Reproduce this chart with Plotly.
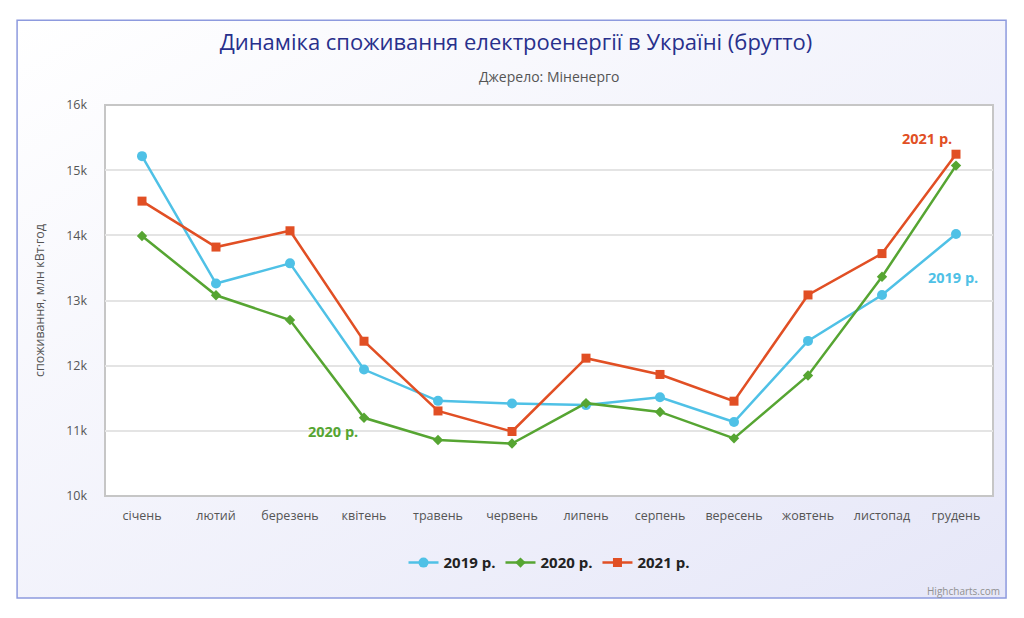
import base64
import plotly.graph_objects as go

# Monthly gross electricity consumption, mln kWh
months = ["січень", "лютий", "березень", "квітень", "травень", "червень",
          "липень", "серпень", "вересень", "жовтень", "листопад", "грудень"]
y2019 = [15215, 13260, 13570, 11940, 11460, 11420, 11395, 11515, 11135, 12380, 13085, 14020]
y2020 = [13990, 13080, 12700, 11200, 10860, 10805, 11425, 11290, 10885, 11850, 13365, 15070]
y2021 = [14525, 13820, 14070, 12375, 11305, 10990, 12115, 11865, 11455, 13085, 13720, 15245]
y_ticks = [10000, 11000, 12000, 13000, 14000, 15000, 16000]
y_tick_labels = ["10k", "11k", "12k", "13k", "14k", "15k", "16k"]

c2019 = "#4fc1e6"
c2020 = "#56a532"
c2021 = "#e14f24"
font = "Open Sans"

fig = go.Figure()

fig.add_trace(go.Scatter(x=months, y=y2019, mode="lines+markers", name="<b>2019 р.</b>",
                         line=dict(color=c2019, width=2.5),
                         marker=dict(symbol="circle", size=10, color=c2019)))
fig.add_trace(go.Scatter(x=months, y=y2020, mode="lines+markers", name="<b>2020 р.</b>",
                         line=dict(color=c2020, width=2.5),
                         marker=dict(symbol="diamond", size=8, color=c2020)))
fig.add_trace(go.Scatter(x=months, y=y2021, mode="lines+markers", name="<b>2021 р.</b>",
                         line=dict(color=c2021, width=2.5),
                         marker=dict(symbol="square", size=9, color=c2021)))

# gradient background of the chart box (white -> lavender)
svg = ('<svg xmlns="http://www.w3.org/2000/svg" width="100" height="100" preserveAspectRatio="none">'
       '<defs><linearGradient id="g" x1="0" y1="0" x2="1" y2="1">'
       '<stop offset="0" stop-color="#ffffff"/><stop offset="1" stop-color="#e6e7f8"/>'
       '</linearGradient></defs><rect width="100" height="100" fill="url(#g)"/></svg>')
bg_src = "data:image/svg+xml;base64," + base64.b64encode(svg.encode()).decode()
fig.add_layout_image(source=bg_src, xref="paper", yref="paper", x=-0.099, y=1.217,
                     sizex=1.1137, sizey=1.478, xanchor="left", yanchor="top",
                     sizing="stretch", layer="below")

# outer chart box border and plot area frame
fig.add_shape(type="rect", xref="paper", yref="paper", x0=-0.099, x1=1.0147, y0=-0.261, y1=1.217,
              fillcolor="rgba(0,0,0,0)", line=dict(color="#8d9ade", width=1.5), layer="below")
fig.add_shape(type="rect", xref="paper", yref="paper", x0=0, x1=1, y0=0, y1=1,
              fillcolor="white", line=dict(color="#c6c6c6", width=2), layer="below")

# series labels
fig.add_annotation(x="грудень", y=y2021[-1], text="<b>2021 р.</b>", showarrow=False,
                   xshift=-29, yshift=16, font=dict(color=c2021, size=14.5, family=font))
fig.add_annotation(x="грудень", y=y2019[-1], text="<b>2019 р.</b>", showarrow=False,
                   xshift=-3, yshift=-43, font=dict(color=c2019, size=14.5, family=font))
fig.add_annotation(x="квітень", y=y2020[3], text="<b>2020 р.</b>", showarrow=False,
                   xshift=-31, yshift=-14, font=dict(color=c2020, size=14.5, family=font))

# subtitle and credits
fig.add_annotation(xref="paper", yref="paper", x=0.5, y=1.073, yanchor="middle",
                   text="Джерело: Міненерго", showarrow=False,
                   font=dict(color="#555555", size=14, family=font))
fig.add_annotation(xref="paper", yref="paper", x=1.01, y=-0.242, xanchor="right", yanchor="middle",
                   text="Highcharts.com", showarrow=False,
                   font=dict(color="#909090", size=10, family=font))

fig.update_layout(
    width=1016, height=610,
    margin=dict(l=97, r=31, t=97, b=122),
    paper_bgcolor="white", plot_bgcolor="white",
    title=dict(text="Динаміка споживання електроенергії в Україні (брутто)",
               x=0.5, xanchor="center", y=0.944, yanchor="middle",
               font=dict(color="#28308c", size=22, family=font)),
    font=dict(family=font, color="#555555"),
    showlegend=True,
    legend=dict(orientation="h", x=0.5, xanchor="center", y=-0.171, yanchor="middle",
                bgcolor="rgba(0,0,0,0)", font=dict(size=15, color="#222222", family=font),
                itemwidth=30),
)
fig.update_xaxes(range=[-0.5, 11.5], showgrid=False, zeroline=False, showline=False,
                 ticks="", ticklabelstandoff=10, tickfont=dict(size=12.5, color="#555555"))
fig.update_yaxes(range=[10000, 16000], tickvals=y_ticks, ticktext=y_tick_labels,
                 showgrid=True, gridcolor="#e4e4e4", gridwidth=1.5, zeroline=False,
                 tickfont=dict(size=12.5, color="#555555"), ticklabelstandoff=17,
                 title=dict(text="споживання, млн кВт·год", standoff=18,
                            font=dict(size=12.5, color="#555555")))

fig.write_html("out.html")
